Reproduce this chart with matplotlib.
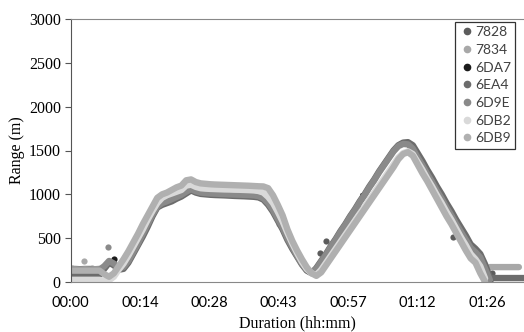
import numpy as np
import matplotlib
matplotlib.use("Agg")
import matplotlib.pyplot as plt
from matplotlib.lines import Line2D

# minutes since start, one reading per minute
t_full = np.arange(0, 95)

r_6ea4 = [80, 80, 80, 80, 80, 80, 80, 150, 220, 190,
          140, 150, 220, 320, 420, 520, 630, 750, 850, 880,
          900, 920, 950, 975, 1010, 1045, 1020, 1005, 1000, 995,
          992, 990, 988, 985, 982, 980, 978, 975, 972, 965,
          940, 880, 800, 700, 600, 480, 380, 290, 200, 130,
          100, 160, 240, 320, 410, 490, 580, 660, 750, 830,
          920, 1000, 1090, 1170, 1260, 1340, 1420, 1500, 1560, 1590,
          1595, 1560, 1470, 1380, 1280, 1190, 1090, 1000, 900, 810,
          710, 620, 530, 430, 380, 320, 200, 50, 45, 45,
          45, 45, 45, 45, 45]

r_6d9e = [140, 140, 145, 140, 145, 140, 140, 180, 240, 210,
          160, 170, 240, 340, 440, 550, 660, 770, 860, 900,
          920, 945, 970, 995, 1030, 1060, 1035, 1020, 1015, 1010,
          1008, 1005, 1003, 1000, 998, 996, 994, 992, 988, 980,
          955, 900, 820, 720, 620, 500, 400, 300, 210, 140,
          110, 150, 230, 310, 400, 480, 570, 650, 740, 820,
          910, 990, 1080, 1160, 1250, 1330, 1410, 1490, 1550, 1575,
          1570, 1520, 1420, 1330, 1230, 1140, 1040, 950, 850, 760,
          660, 570, 480, 390, 340, 280, 150, 20, np.nan, np.nan,
          np.nan, np.nan, np.nan, np.nan, np.nan]

r_6db2 = [25, 25, 25, 25, 25, 25, 25, 15, 20, 60,
          140, 210, 300, 400, 500, 600, 710, 810, 900, 960,
          990, 1010, 1030, 1050, 1100, 1110, 1085, 1070, 1065, 1062,
          1060, 1058, 1056, 1055, 1053, 1052, 1050, 1048, 1045, 1038,
          1020, 970, 900, 800, 690, 560, 440, 330, 230, 150,
          100, 80, 140, 220, 300, 380, 460, 540, 620, 700,
          780, 860, 940, 1020, 1100, 1180, 1260, 1340, 1420, 1470,
          1490, 1460, 1370, 1280, 1180, 1090, 990, 900, 800, 710,
          610, 510, 420, 320, 260, 180, 40, np.nan, np.nan, np.nan,
          np.nan, np.nan, np.nan, np.nan, np.nan]

r_6db9 = [130, 130, 130, 130, 130, 130, 130, 90, 60, 100,
          180, 260, 350, 450, 550, 660, 760, 860, 960, 1000,
          1020, 1050, 1080, 1100, 1160, 1170, 1140, 1125, 1120, 1115,
          1112, 1110, 1108, 1106, 1104, 1102, 1100, 1098, 1095, 1092,
          1090, 1070, 990, 880, 760, 600, 470, 360, 260, 170,
          100, 70, 110, 190, 270, 350, 430, 510, 590, 670,
          750, 830, 910, 990, 1070, 1150, 1230, 1310, 1400, 1460,
          1480, 1440, 1340, 1240, 1150, 1050, 950, 850, 750, 660,
          560, 460, 360, 270, 220, 100, 0, np.nan, np.nan, np.nan,
          np.nan, np.nan, np.nan, np.nan, np.nan]

# short pieces and stray readings
t_7834 = [0, 1, 2, 3, 4, 5, 6, np.nan, 87, 88, 89, 90, 91, 92, 93]
r_7834 = [150, 150, 145, 150, 150, 145, 150, np.nan, 170, 170, 170, 170, 170, 170, 170]
t_7834_pts = [2.8, 0.3, 4.5]
r_7834_pts = [243, 160, 155]

t_7828_pts = [45.9, 51.8, 53.1, 79.3, 87.4]
r_7828_pts = [414, 327, 471, 517, 106]

t_6da7 = [15.5, 16, 16.5, np.nan, 59.8, 60.1, 60.4]
r_6da7 = [640, 700, 760, np.nan, 800, 900, 1000]
t_6da7_pts = [9.1, 87.0]
r_6da7_pts = [266, 5]

t_6d9e_pts = [7.7, 21.5, 23.0]
r_6d9e_pts = [395, 1011, 1049]
t_6db9_pts = [10.6, 43.2]
r_6db9_pts = [224, 661]

names = ["7828", "7834", "6DA7", "6EA4", "6D9E", "6DB2", "6DB9"]
colors = ["#5c5c5c", "#a8a8a8", "#1c1c1c", "#6c6c6c", "#8a8a8a", "#d9d9d9", "#b0b0b0"]

fig = plt.figure(figsize=(5.24, 3.32), dpi=100)
ax = fig.add_axes([70.5 / 524, 50 / 332, 458 / 524, 263 / 332])

band = dict(lw=4.6, solid_capstyle="round", solid_joinstyle="round")
dot = dict(s=20, linewidths=0)

ax.scatter(t_7828_pts, r_7828_pts, color=colors[0], **dot)
ax.plot(t_7834, r_7834, color=colors[1], **band)
ax.scatter(t_7834_pts, r_7834_pts, color=colors[1], **dot)
ax.plot(t_6da7, r_6da7, color=colors[2], lw=2.0, solid_capstyle="round")
ax.scatter(t_6da7_pts, r_6da7_pts, color=colors[2], **dot)
ax.plot(t_full, r_6ea4, color=colors[3], **band)
ax.plot(t_full, r_6d9e, color=colors[4], **band)
ax.scatter(t_6d9e_pts, r_6d9e_pts, color=colors[4], **dot)
ax.plot(t_full, r_6db2, color=colors[5], **band)
ax.plot(t_full, r_6db9, color=colors[6], **band)
ax.scatter(t_6db9_pts, r_6db9_pts, color=colors[6], **dot)

ax.set_xlim(0, 95)
ax.set_ylim(0, 3000)
xt = [0, 14.4, 28.8, 43.2, 57.6, 72, 86.4]
ax.set_xticks(xt)
ax.set_xticklabels([f"{int(v // 60):02d}:{int(v % 60):02d}" for v in xt])
ax.tick_params(axis="x", length=0, pad=10, labelsize=10.5)
for lbl in ax.get_xticklabels():
    lbl.set_fontfamily("Lato")
ax.set_yticks(range(0, 3001, 500))
ax.tick_params(axis="y", length=4, width=0.8, color="#555555", pad=3, labelsize=11.5)
for lbl in ax.get_yticklabels():
    lbl.set_fontfamily("Liberation Serif")

ax.spines["left"].set_color("#555555")
for s in ["top", "bottom"]:
    ax.spines[s].set_color("#888888")
ax.spines["right"].set_visible(False)

ax.set_xlabel("Duration (hh:mm)", fontfamily="Liberation Serif", fontsize=11.5, va="center")
ax.xaxis.set_label_coords(0.5 - 2 / 458, -41 / 263)
ax.set_ylabel("Range (m)", fontfamily="Liberation Serif", fontsize=11.5, va="center")
ax.yaxis.set_label_coords(-54 / 458, 0.5)

handles = [Line2D([], [], marker="o", ls="", color=c, markersize=4.5) for c in colors]
leg = ax.legend(handles, names, loc="upper right", bbox_to_anchor=(515 / 524, 1 - 22 / 332),
                bbox_transform=fig.transFigure, frameon=True, fancybox=False,
                prop={"family": "Lato", "size": 10}, handletextpad=0.1,
                handlelength=1.0, labelspacing=0.41, borderpad=0.3, borderaxespad=0)
leg.get_frame().set_edgecolor("black")
leg.get_frame().set_linewidth(0.9)
for txt in leg.get_texts():
    txt.set_color("#404040")

fig.savefig("out.png", dpi=100)
